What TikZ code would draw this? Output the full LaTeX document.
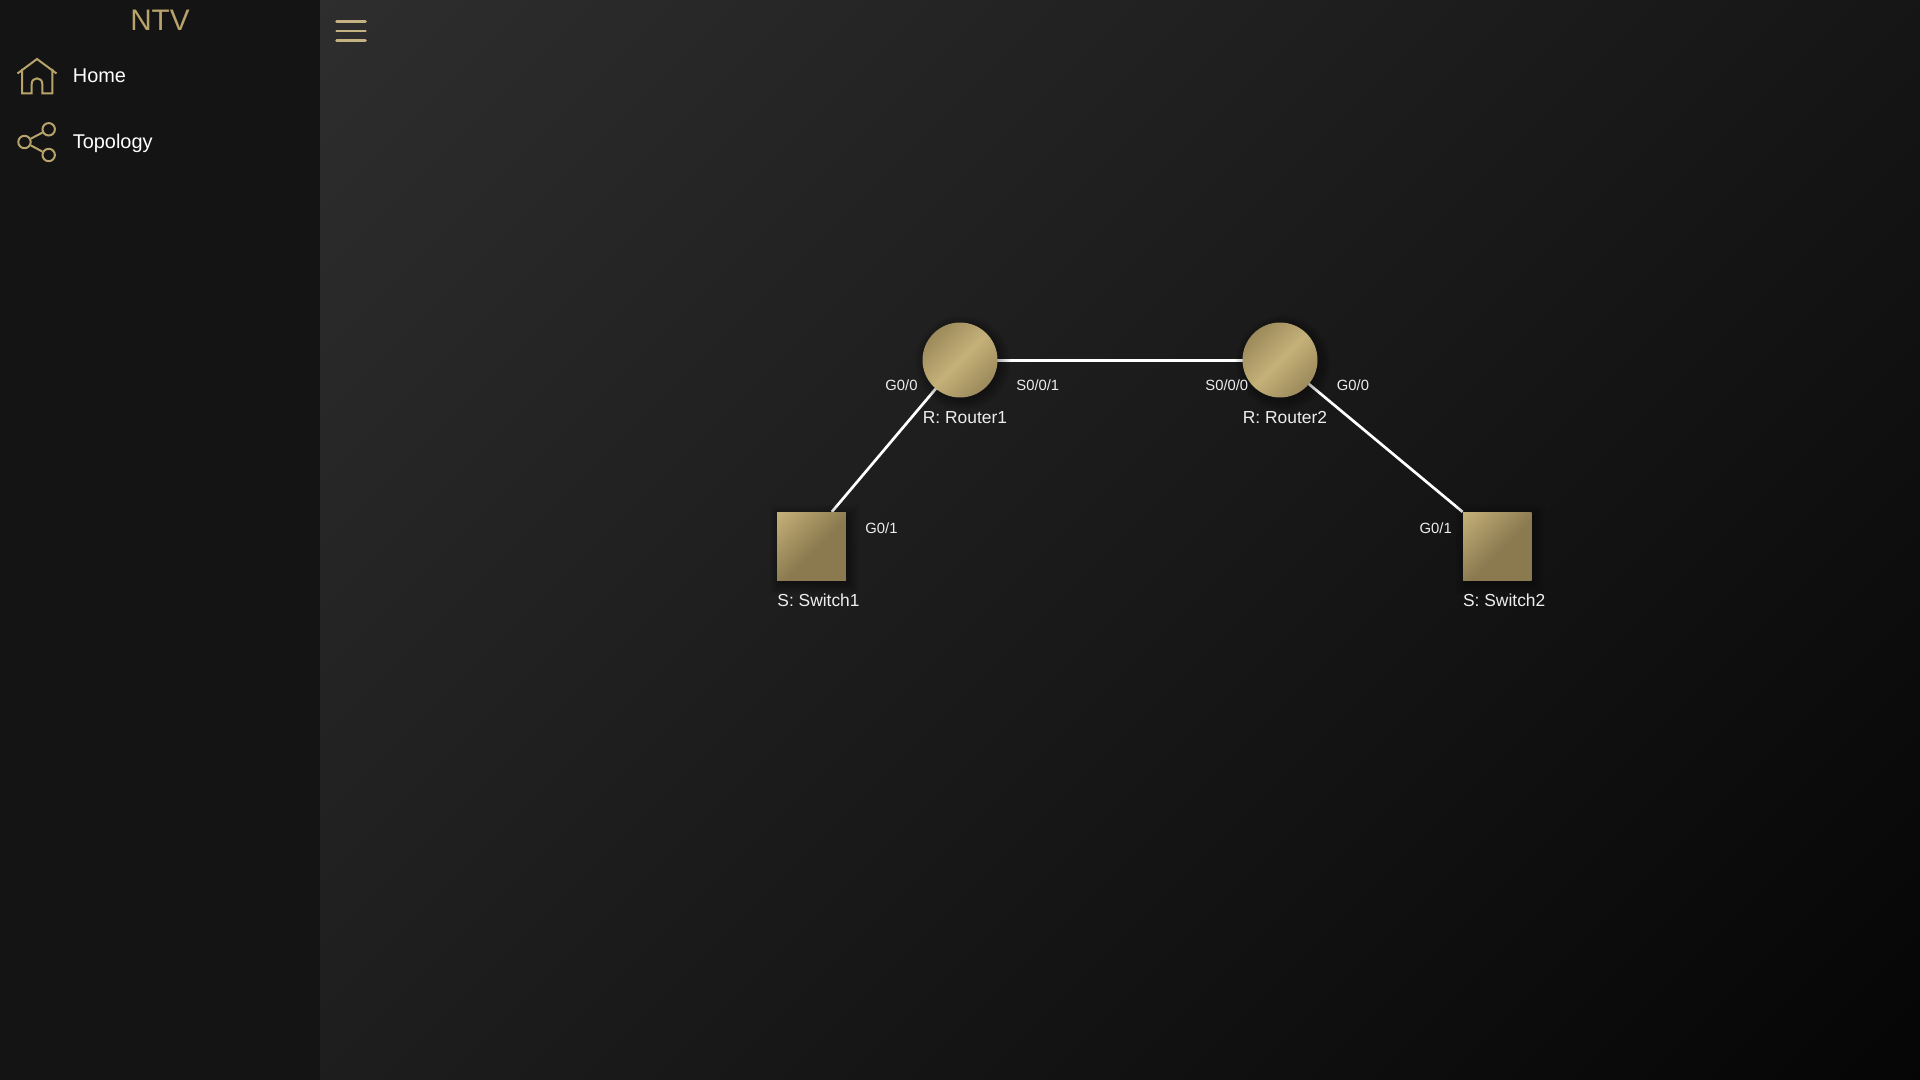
\documentclass[tikz,border=0pt]{standalone}
\usepackage{fontspec}
\setmainfont{Liberation Sans}
\usetikzlibrary{calc}
\definecolor{gold}{HTML}{B8A36B}
\definecolor{side}{HTML}{141414}
\definecolor{lbl}{HTML}{EEEEEE}
\pgfdeclarelayer{bgl}\pgfdeclarelayer{edgel}\pgfdeclarelayer{shadowl}
\pgfsetlayers{bgl,edgel,shadowl,main}
\pgfdeclarehorizontalshading{mainbg}{1000bp}{rgb(0bp)=(0.18,0.18,0.18);rgb(951bp)=(0.02,0.02,0.02)}
\pgfdeclarehorizontalshading{roundfill}{60bp}{rgb(0bp)=(0.545,0.478,0.314);rgb(26.6bp)=(0.769,0.69,0.47);rgb(53.2bp)=(0.545,0.478,0.314)}
\pgfdeclarehorizontalshading{squarefill}{60bp}{rgb(0bp)=(0.773,0.694,0.471);rgb(27bp)=(0.545,0.478,0.314);rgb(49bp)=(0.545,0.478,0.314)}
\tikzset{
  router/.style={circle,minimum size=37.5pt,inner sep=0pt,
    path picture={\pgftext[at=\pgfpointanchor{path picture bounding box}{center},rotate=-45]{\pgfuseshading{roundfill}}}},
  switch/.style={rectangle,minimum size=34.3pt,inner sep=0pt,
    path picture={\pgftext[at=\pgfpointanchor{path picture bounding box}{center},rotate=-45]{\pgfuseshading{squarefill}}}},
  devlabel/.style={anchor=base west,inner sep=0pt,text=lbl,font=\fontsize{8.7}{10}\selectfont},
  portlabel/.style={anchor=base west,inner sep=0pt,text=lbl,font=\fontsize{7.4}{9}\selectfont},
  menulabel/.style={anchor=base west,inner sep=0pt,text=white,font=\fontsize{9.95}{12}\selectfont},
  link/.style={draw=white,line width=1.35pt},
  icon/.style={draw=gold,line width=1pt},
  iconball/.style={circle,draw=gold,line width=1pt,minimum size=6.2pt,inner sep=0pt},
  burger/.style={draw=gold!85!white,line width=1.25pt,line cap=round}
}
\begin{document}
\begin{tikzpicture}[x=0.5pt,y=-0.5pt]
\useasboundingbox (0,0) rectangle (1920,1080);
% background
\begin{pgfonlayer}{bgl}
  \begin{scope}
    \clip (320,0) rectangle (1920,1080);
    \pgftext[at={\pgfpointxy{1120}{540}},rotate=-45]{\pgfuseshading{mainbg}}
  \end{scope}
  \fill[side] (0,0) rectangle (320,1080);
\end{pgfonlayer}
% sidebar
\node[anchor=base,inner sep=0pt,text=gold,font=\fontsize{14.85}{18}\selectfont] (title) at (160,30.5) {NTV};
\node[menulabel] (home) at (72.5,82.7) {Home};
\node[menulabel] (topo) at (72.5,148.9) {Topology};
% home icon
\draw[icon,line join=miter] (17.5,73.5) -- (37,59) -- (56.5,73.5);
\draw[icon,line join=miter] (22,69) -- (22,93.3) -- (31.7,93.3) -- (31.7,84)
  .. controls (31.7,76.5) and (42.3,76.5) .. (42.3,84) -- (42.3,93.3) -- (52.3,93.3) -- (52.3,69);
% share icon
\node[iconball] (sa) at (48.7,129.3) {};
\node[iconball] (sb) at (24.5,142) {};
\node[iconball] (sc) at (48.7,155) {};
\draw[icon] (sb) -- (sa);
\draw[icon] (sb) -- (sc);
% hamburger
\draw[burger] (336.5,21.3) -- (365.5,21.3);
\draw[burger] (336.5,31) -- (365.5,31);
\draw[burger] (336.5,40.3) -- (365.5,40.3);
% devices
\node[router] (r1) at (960,360) {};
\node[router] (r2) at (1280,360) {};
\node[switch] (s1) at (811.5,546.6) {};
\node[switch] (s2) at (1497.3,546.6) {};
% shadows
\begin{pgfonlayer}{shadowl}
  \foreach \d in {-4,-2,...,10}{
    \fill[black,opacity=.05] ($(r1)+(3,3)$) circle ({18.75pt+\d*0.5pt});
    \fill[black,opacity=.05] ($(r2)+(3,3)$) circle ({18.75pt+\d*0.5pt});
    \fill[black,opacity=.05] ($(s1.north west)+(3-\d,3-\d)$) rectangle ($(s1.south east)+(3+\d,3+\d)$);
    \fill[black,opacity=.05] ($(s2.north west)+(3-\d,3-\d)$) rectangle ($(s2.south east)+(3+\d,3+\d)$);
  }
\end{pgfonlayer}
% links
\begin{pgfonlayer}{edgel}
  \draw[link] ($(r1.center)+(0,0.4)$) -- ($(r2.center)+(0,0.4)$);
  \draw[link] (r1.center) -- ($(s1.north west)+(55,0)$);
  \draw[link] (r2.center) -- (s2.north west);
\end{pgfonlayer}
% labels
\node[devlabel] (lr1) at (922.5,423.9) {R: Router1};
\node[devlabel] (lr2) at (1242.5,423.9) {R: Router2};
\node[devlabel] (ls1) at (777,606.7) {S: Switch1};
\node[devlabel] (ls2) at (1462.7,606.7) {S: Switch2};
\node[portlabel] (p1) at (885,390) {G0/0};
\node[portlabel] (p2) at (1016,390) {S0/0/1};
\node[portlabel] (p3) at (1205,390) {S0/0/0};
\node[portlabel] (p4) at (1336.5,390) {G0/0};
\node[portlabel] (p5) at (865,533) {G0/1};
\node[portlabel] (p6) at (1419.3,533) {G0/1};
\end{tikzpicture}
\end{document}
